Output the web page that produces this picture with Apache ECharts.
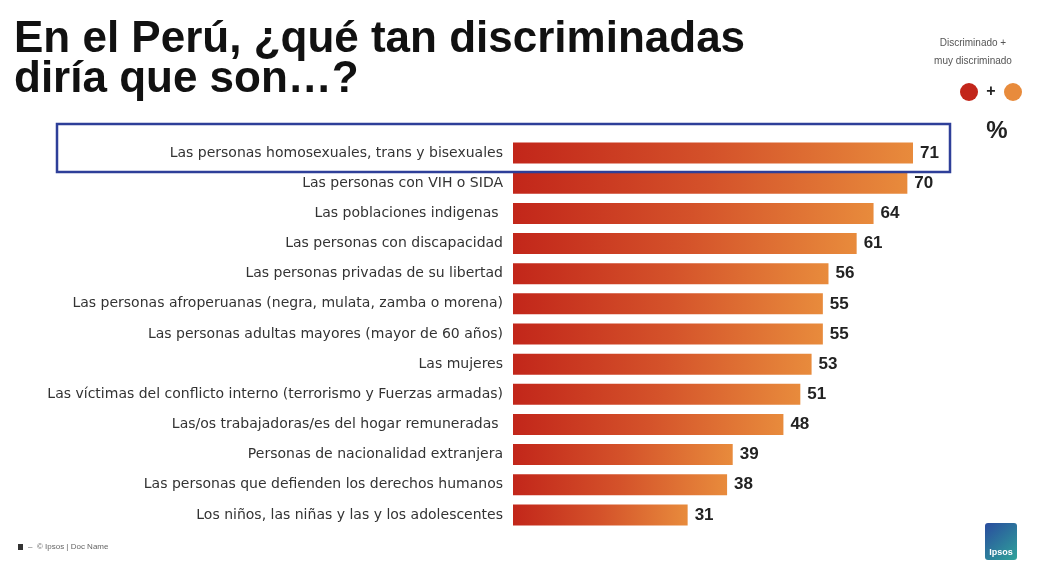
<!DOCTYPE html>
<html><head><meta charset="utf-8">
<script src="https://cdn.jsdelivr.net/npm/echarts@6/dist/echarts.min.js"></script>
<style>html,body{margin:0;padding:0;background:#fff}#c{width:1043px;height:563px}</style>
</head><body><div id="c"></div>
<script>
const categories = [
  "Las personas homosexuales, trans y bisexuales",
  "Las personas con VIH o SIDA",
  "Las poblaciones indigenas ",
  "Las personas con discapacidad",
  "Las personas privadas de su libertad",
  "Las personas afroperuanas (negra, mulata, zamba o morena)",
  "Las personas adultas mayores (mayor de 60 años)",
  "Las mujeres",
  "Las víctimas del conflicto interno (terrorismo y Fuerzas armadas)",
  "Las/os trabajadoras/es del hogar remuneradas ",
  "Personas de nacionalidad extranjera",
  "Las personas que defienden los derechos humanos",
  "Los niños, las niñas y las y los adolescentes"
];
const values = [71, 70, 64, 61, 56, 55, 55, 53, 51, 48, 39, 38, 31];

const chart = echarts.init(document.getElementById('c'));
const F = '"Liberation Sans", Arial, sans-serif';
chart.setOption({
  animation: false,
  textStyle: { fontFamily: F },
  title: {
    text: 'En el Perú, ¿qué tan discriminadas\ndiría que son…?',
    left: 9, top: 15,
    textStyle: { fontSize: 44, fontWeight: 'bold', color: '#111', lineHeight: 40, fontFamily: F }
  },
  grid: { left: 513, top: 138, height: 392, width: 450.7 },
  xAxis: { type: 'value', min: 0, max: 80, show: false },
  yAxis: {
    type: 'category', data: categories, inverse: true,
    axisLine: { show: false }, axisTick: { show: false },
    axisLabel: { fontSize: 14, color: '#333', margin: 10, fontFamily: '"DejaVu Sans", sans-serif' }
  },
  series: [{
    type: 'bar', data: values, barWidth: 21,
    itemStyle: {
      color: new echarts.graphic.LinearGradient(0, 0, 1, 0, [
        { offset: 0, color: '#C2261A' },
        { offset: 0.5, color: '#D4522A' },
        { offset: 1, color: '#E88B3C' }
      ])
    },
    label: { show: true, position: 'right', distance: 7, fontSize: 17, fontWeight: 'bold', color: '#222', fontFamily: F }
  }],
  graphic: [
    { type: 'rect', shape: { x: 57, y: 124, width: 893, height: 48 },
      style: { fill: 'none', stroke: '#2E3F99', lineWidth: 2.5 }, z: 10 },
    { type: 'text', style: { x: 973, y: 43, text: 'Discriminado +', align: 'center', verticalAlign: 'middle', fontSize: 10, fill: '#555', fontFamily: F } },
    { type: 'text', style: { x: 973, y: 61, text: 'muy discriminado', align: 'center', verticalAlign: 'middle', fontSize: 10, fill: '#555', fontFamily: F } },
    { type: 'circle', shape: { cx: 969, cy: 92, r: 9 }, style: { fill: '#C2261A' } },
    { type: 'text', style: { x: 991, y: 92, text: '+', fontSize: 16, fontWeight: 'bold', fill: '#222', align: 'center', verticalAlign: 'middle', fontFamily: F } },
    { type: 'circle', shape: { cx: 1013, cy: 92, r: 9 }, style: { fill: '#E88B3C' } },
    { type: 'text', style: { x: 997, y: 131, text: '%', fontSize: 24, fontWeight: 'bold', fill: '#222', align: 'center', verticalAlign: 'middle', fontFamily: F } },
    { type: 'rect', shape: { x: 18, y: 544, width: 5, height: 6 }, style: { fill: '#333' } },
    { type: 'text', style: { x: 28, y: 547, text: '–  © Ipsos | Doc Name', fontSize: 8, fill: '#666', verticalAlign: 'middle', fontFamily: F } },
    { type: 'rect', shape: { x: 985, y: 523, width: 32, height: 37, r: 3 },
      style: { fill: new echarts.graphic.LinearGradient(0, 0, 1, 1, [{ offset: 0, color: '#2A4C9E' }, { offset: 1, color: '#2FA39A' }]) } },
    { type: 'text', style: { x: 1001, y: 553, text: 'Ipsos', fontSize: 9, fontWeight: 'bold', fill: '#fff', align: 'center', verticalAlign: 'middle', fontFamily: F } }
  ]
});
</script>
</body></html>
